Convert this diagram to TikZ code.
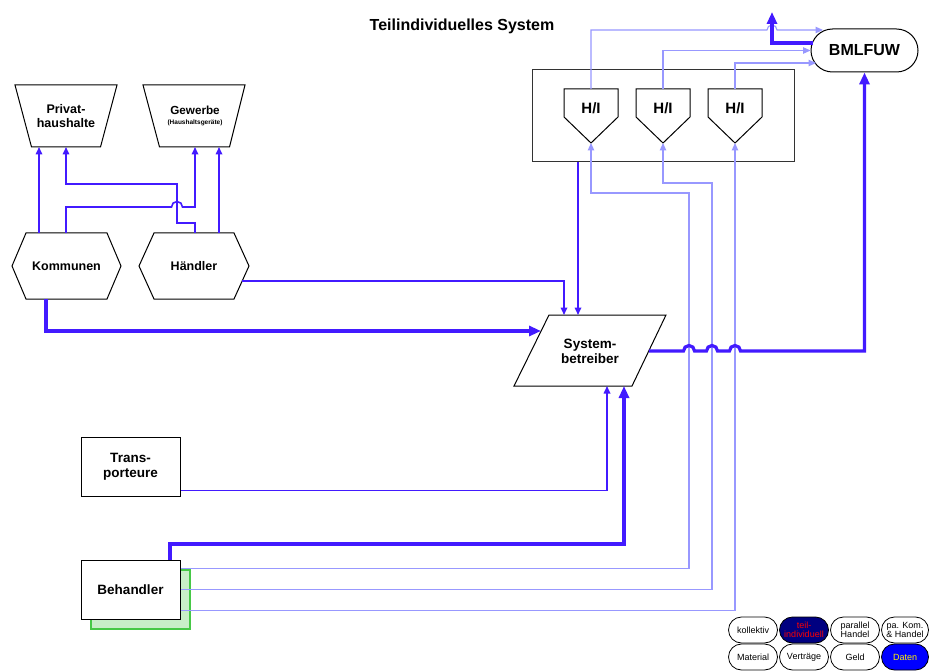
\documentclass[tikz,border=0pt]{standalone}
\usepackage{fontspec}
\setmainfont{Liberation Sans}
\usetikzlibrary{arrows.meta}

\definecolor{flowdark}{RGB}{66,26,255}
\definecolor{flowlight}{RGB}{152,152,255}
\definecolor{shadowfill}{RGB}{200,238,200}
\definecolor{shadowedge}{RGB}{70,200,70}
\definecolor{navyfill}{RGB}{0,0,128}

\tikzset{
  area/.style={inner sep=0pt, outer sep=0pt, draw=none},
  outline/.style={draw=black, line width=1pt, line join=miter},
  txt/.style={inner sep=0pt, outer sep=0pt, align=center, font=\bfseries\fontsize{#1}{\fpeval{#1+1.5}}\selectfont},
  plainbox/.style={draw=black, line width=1pt, fill=white, inner sep=0pt, align=center,
    minimum width=99pt, minimum height=59pt, font=\bfseries\fontsize{13.5}{15}\selectfont},
  mid/.style={draw=flowdark, line width=1.6pt, -{Triangle[length=7.5pt,width=6.5pt]}},
  heavy/.style={draw=flowdark, line width=3.2pt, -{Triangle[length=12pt,width=10pt]}},
  faint/.style={draw=flowlight, line width=1.1pt, -{Triangle[length=7.5pt,width=6.5pt]}},
  key/.style={draw=black, line width=0.8pt, rounded corners=13pt, fill=white, inner sep=0pt,
    minimum width=49pt, minimum height=26pt, align=center, font=\fontsize{9}{9.5}\selectfont},
}

\begin{document}
\begin{tikzpicture}[x=1pt, y=-1pt]
  \fill[white] (0,0) rectangle (929,671);
  \useasboundingbox (0,0) rectangle (929,671);

  % title
  \node[txt=16] (title) at (462,26) {Teilindividuelles System};

  % consumers (trapezoids)
  \node[area, minimum width=102pt, minimum height=62pt] (privat) at (66,116) {};
  \draw[outline] (privat.north west) -- (privat.north east)
    -- ([xshift=-16.5pt]privat.south east) -- ([xshift=16.5pt]privat.south west) -- cycle;
  \node[txt=12.5] (privatlbl) at (66,116) {Privat-\\haushalte};

  \node[area, minimum width=102pt, minimum height=62pt] (gewerbe) at (194,116) {};
  \draw[outline] (gewerbe.north west) -- (gewerbe.north east)
    -- ([xshift=-15.5pt]gewerbe.south east) -- ([xshift=16.5pt]gewerbe.south west) -- cycle;
  \node[txt=11.7] (gewerbelbl) at (195,110) {Gewerbe};
  \node[txt=6.5] (gewerbesub) at (195,122.5) {(Haushaltsgeräte)};

  % collectors (hexagons)
  \node[area, minimum width=109pt, minimum height=66pt] (kom) at (66.5,266) {};
  \draw[outline] (kom.west) -- ([xshift=14pt]kom.north west) -- ([xshift=-14pt]kom.north east)
    -- (kom.east) -- ([xshift=-14pt]kom.south east) -- ([xshift=14pt]kom.south west) -- cycle;
  \node[txt=12.5] (komlbl) at (66.5,266) {Kommunen};

  \node[area, minimum width=110pt, minimum height=66pt] (haendler) at (194,266) {};
  \draw[outline] (haendler.west) -- ([xshift=15pt]haendler.north west) -- ([xshift=-15pt]haendler.north east)
    -- (haendler.east) -- ([xshift=-15pt]haendler.south east) -- ([xshift=15pt]haendler.south west) -- cycle;
  \node[txt=12.5] (haendlerlbl) at (194,266) {Händler};

  % producers / importers
  \node[area, minimum width=262pt, minimum height=92pt] (hibox) at (663,116) {};
  \draw[outline, draw=black!80] (hibox.north west) rectangle (hibox.south east);
  \foreach \n/\cx in {hi1/591, hi2/663, hi3/735} {
    \node[area, minimum width=54pt, minimum height=54pt] (\n) at (\cx,116) {};
    \draw[outline] (\n.north west) -- (\n.north east) -- ([yshift=-28pt]\n.north east)
      -- (\n.south) -- ([yshift=-28pt]\n.north west) -- cycle;
    \node[txt=15] (\n lbl) at (\cx,108) {H/I};
  }

  % ministry
  \node[draw=black, line width=1pt, rounded corners=21.5pt, minimum width=107pt, minimum height=43pt,
    inner sep=0pt, font=\bfseries\fontsize{16}{18}\selectfont] (bmlfuw) at (864.5,50.5) {BMLFUW};

  % system operator (parallelogram)
  \node[area, minimum width=152pt, minimum height=71pt] (sys) at (590,350.5) {};
  \draw[outline] ([xshift=35pt]sys.north west) -- (sys.north east)
    -- ([xshift=-34pt]sys.south east) -- (sys.south west) -- cycle;
  \node[txt=13.5] (syslbl) at (590,351) {System-\\betreiber};
  \coordinate (sysin) at (541,331);
  \coordinate (sysout) at (648.8,351);

  % transporters and treatment plants
  \node[plainbox] (trans) at (130.5,466.5) {Trans-\\porteure};
  \fill[shadowfill, draw=shadowedge, line width=1.1pt] (91,570) rectangle (190,629);
  \node[plainbox] (beh) at (130.5,589.5) {Behandler};

  % material flows between collectors and consumers
  \draw[mid] (kom.north -| 39,0) -- (privat.south -| 39,0);
  \draw[mid] (haendler.north -| 195,0) |- (177,223) |- (66,184) -- (privat.south -| 66,0);
  \draw[mid] (kom.north -| 66,0) |- (171.5,207) arc[start angle=180, end angle=0, radius=5.5pt]
    -- (195,207) -- (gewerbe.south -| 195,0);
  \draw[mid] (haendler.north -| 219,0) -- (gewerbe.south -| 219,0);

  % flows into the system operator
  \draw[mid] ([xshift=-7pt, yshift=-15pt]haendler.east) -| (sys.north -| 564,0);
  \draw[mid] (hibox.south -| 578,0) -- (sys.north -| 578,0);
  \draw[mid] ([yshift=6pt]trans.south east) -| (sys.south -| 607,0);
  \draw[heavy] (kom.south -| 46,0) |- (sysin);
  \draw[heavy] (beh.north -| 170,0) |- (624,544) -- (sys.south -| 624,0);

  % data from treatment plants to producers / importers
  \draw[faint] ([yshift=-9pt]beh.north east) -| (689,193) -| (hi1.south);
  \draw[faint] (beh.east) -| (712,183) -| (hi2.south);
  \draw[faint] ([yshift=9pt]beh.south east) -| (hi3.south);

  % reports to the ministry
  \draw[faint] (hi1.north) |- (767,30) arc[start angle=180, end angle=0, radius=5pt] -- (823,30);
  \draw[faint] (hi2.north) |- (bmlfuw.west);
  \draw[faint] (hi3.north) |- (816,63);

  \draw[heavy] (sysout) -- (683.5,351) arc[start angle=180, end angle=0, radius=5.5pt]
    -- (706.5,351) arc[start angle=180, end angle=0, radius=5.5pt]
    -- (729.5,351) arc[start angle=180, end angle=0, radius=5.5pt]
    -- (bmlfuw.south |- 0,351) -- (bmlfuw.south);
  \coordinate (bmlout) at (813,43);
  \coordinate (upward) at (772,12);
  \draw[heavy] (bmlout) -| (upward);

  % legend
  \node[key] (k1) at (753,630) {kollektiv};
  \node[key, fill=navyfill, text=red] (k2) at (804,630) {teil-\\individuell};
  \node[key] (k3) at (855,630) {parallel\\Handel};
  \node[key, minimum width=47pt] (k4) at (905,630) {pa. Kom.\\\& Handel};
  \node[key] (k5) at (753,657) {Material};
  \node[key] (k6) at (804,657) {Verträge};
  \node[key] (k7) at (855,657) {Geld};
  \node[key, minimum width=47pt, fill=blue, text=yellow] (k8) at (905,657) {Daten};
\end{tikzpicture}
\end{document}
